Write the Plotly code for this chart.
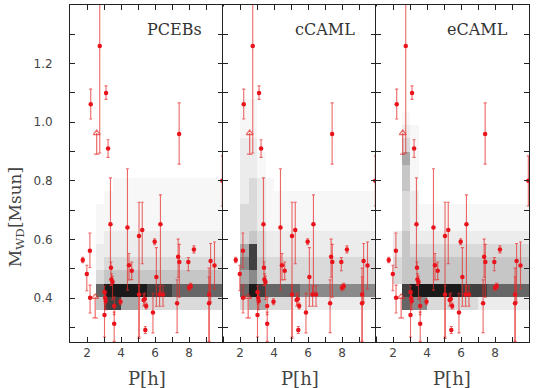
import plotly.graph_objects as go

# ---------------- data ----------------
# observed systems: orbital period [h], WD mass [Msun], errors (+/-)
P_obs = [1.75, 1.99, 2.17, 2.18, 2.22, 2.75, 3.12, 3.24, 3.03, 3.03, 3.07, 3.10,
         3.38, 3.41, 3.44, 3.50, 3.60, 3.60, 3.97, 4.38, 4.47, 4.63, 5.06, 5.06,
         5.25, 5.33, 5.40, 5.48, 5.43, 5.88, 5.98, 6.08, 6.32, 6.27, 6.47, 7.30,
         7.36, 7.43, 7.42, 7.96, 8.00, 8.10, 8.29, 9.18, 9.18, 9.27, 9.50, 9.96]
M_obs = [0.530, 0.482, 0.561, 0.401, 1.061, 1.260, 1.100, 0.910, 0.342, 0.421, 0.400, 0.390,
         0.652, 0.503, 0.463, 0.455, 0.373, 0.312, 0.387, 0.641, 0.512, 0.493, 0.612, 0.412,
         0.632, 0.393, 0.397, 0.373, 0.291, 0.351, 0.592, 0.472, 0.652, 0.412, 0.412, 0.382,
         0.541, 0.523, 0.960, 0.523, 0.435, 0.440, 0.566, 0.412, 0.382, 0.526, 0.511, 0.800]
M_err_plus = [0.009, 0.030, 0.061, 0.043, 0.052, 0.200, 0.024, 0.030, 0.075, 0.020, 0.020, 0.030,
              0.158, 0.020, 0.020, 0.020, 0.030, 0.040, 0.010, 0.200, 0.040, 0.030, 0.115, 0.030,
              0.095, 0.020, 0.020, 0.010, 0.012, 0.065, 0.010, 0.100, 0.100, 0.030, 0.030, 0.080,
              0.060, 0.060, 0.106, 0.015, 0.010, 0.010, 0.012, 0.090, 0.090, 0.060, 0.080, 0.085]
M_err_minus = [0.009, 0.057, 0.057, 0.052, 0.050, 0.365, 0.022, 0.030, 0.075, 0.020, 0.020, 0.030,
               0.147, 0.060, 0.020, 0.060, 0.030, 0.060, 0.010, 0.214, 0.050, 0.030, 0.345, 0.150,
               0.115, 0.020, 0.020, 0.010, 0.012, 0.070, 0.010, 0.100, 0.230, 0.040, 0.040, 0.100,
               0.070, 0.120, 0.103, 0.030, 0.010, 0.010, 0.012, 0.170, 0.130, 0.140, 0.080, 0.086]
# lower limits (arrows): period, lower mass, arrow tip mass
P_lim = [2.57, 2.48]
M_lim_low = [0.891, 0.332]
M_lim_tip = [0.963, 0.404]

# simulated population density (grey levels 0-9), bins 0.5 h x 0.045 Msun
P_edges = [1.0 + 0.5 * i for i in range(19)]
M_edges = [round(0.27 + 0.045 * i, 3) for i in range(26)]
# rows listed from top (1.35-1.395) to bottom (0.27-0.315)
dens_pceb = ["0" * 18] * 13 + [
    "000001111111111111",
    "000011111111111111",
    "000111111111111111",
    "000111111111111111",
    "000122222222222222",
    "000222222222222222",
    "000233333333333333",
    "000344444444444444",
    "000799999888777777",
    "000488553333333333",
    "000000000000000000",
    "000000000000000000",
]
dens_ccaml = ["0" * 18] * 7 + [
    "001100000000000000",
    "001100000000000000",
    "001100000000000000",
    "002200000000000000",
    "002210000000000000",
    "002210000000000000",
    "002321000000000000",
    "002321111111111111",
    "003321111111111111",
    "003321111111111111",
    "003432222222222222",
    "005832222222222222",
    "006843333333333333",
    "005643333333333333",
    "007987777666666666",
    "003553332222222222",
    "000000000000000000",
    "000000000000000000",
]
dens_ecaml = ["0" * 18] * 8 + [
    "000100000000000000",
    "000210000000000000",
    "000310000000000000",
    "000510000000000000",
    "000410000000000000",
    "000410000000000000",
    "000320000000000000",
    "000321111111111111",
    "000321111111111111",
    "002422222222222222",
    "002433333333333333",
    "003444444444444444",
    "003444444444444444",
    "000899999988877777",
    "000766333333222222",
    "000000000000000000",
    "000000000000000000",
]
panel_names = ["PCEBs", "cCAML", "eCAML"]
x_major = [2, 4, 6, 8]
x_minor = [1, 3, 5, 7, 9]
y_major = [0.4, 0.6, 0.8, 1.0, 1.2]
y_minor = [0.3, 0.5, 0.7, 0.9, 1.1, 1.3]

# ---------------- figure ----------------
greys = ["#ffffff", "#f7f7f7", "#ececec", "#dadada", "#c6c6c6",
         "#aaaaaa", "#8a8a8a", "#666666", "#404040", "#1a1a1a"]
cscale = [[k / 9, c] for k, c in enumerate(greys)]


def to_z(rows):
    return [[int(ch) for ch in r] for r in rows[::-1]]


fig = go.Figure()
W, H = 537, 388
ml, mr, mt, mb = 70, 8, 5, 46
doms = [[0, 1 / 3], [1 / 3, 2 / 3], [2 / 3, 1]]
dens_all = [dens_pceb, dens_ccaml, dens_ecaml]
red = "#e8131b"
ebar = "rgba(232,40,40,0.7)"

for k in range(3):
    xa = "x" if k == 0 else f"x{k+1}"
    ya = "y" if k == 0 else f"y{k+1}"
    fig.add_trace(go.Heatmap(x=P_edges, y=M_edges, z=to_z(dens_all[k]),
                             colorscale=cscale, zmin=0, zmax=9, showscale=False,
                             xaxis=xa, yaxis=ya, hoverinfo="skip"))
    fig.add_trace(go.Scatter(x=P_obs, y=M_obs, mode="markers",
                             marker=dict(color=red, size=4.5),
                             error_y=dict(type="data", symmetric=False,
                                          array=M_err_plus, arrayminus=M_err_minus,
                                          color=ebar, thickness=1.1, width=1.5),
                             xaxis=xa, yaxis=ya, showlegend=False))
    for p, lo, tip in zip(P_lim, M_lim_low, M_lim_tip):
        fig.add_trace(go.Scatter(x=[p, p], y=[lo, tip], mode="lines",
                                 line=dict(color=ebar, width=1.2),
                                 xaxis=xa, yaxis=ya, showlegend=False, hoverinfo="skip"))
        fig.add_trace(go.Scatter(x=[p], y=[tip], mode="markers",
                                 marker=dict(symbol="triangle-up-open", size=6,
                                             color=ebar, line=dict(width=1.2, color=ebar)),
                                 xaxis=xa, yaxis=ya, showlegend=False, hoverinfo="skip"))
        fig.add_trace(go.Scatter(x=[p], y=[lo], mode="markers",
                                 marker=dict(symbol="line-ew", size=4,
                                             line=dict(width=1.2, color=ebar)),
                                 xaxis=xa, yaxis=ya, showlegend=False, hoverinfo="skip"))
    fig.add_annotation(x=0.876, y=0.926, xref=f"{xa} domain", yref=f"{ya} domain",
                       text=panel_names[k], showarrow=False, xanchor="right", yanchor="middle",
                       font=dict(family="DejaVu Serif", size=16, color="#333"))
    xd = dict(domain=doms[k], range=[1, 10], tickmode="array", tickvals=x_major,
              minor=dict(tickmode="array", tickvals=x_minor, ticks="inside", ticklen=5,
                         tickcolor="#222", showgrid=False),
              ticks="inside", ticklen=5, tickcolor="#222", showline=True, linecolor="#222",
              linewidth=1, mirror="allticks", showgrid=False, zeroline=False,
              tickfont=dict(family="DejaVu Sans", size=12, color="#444"), anchor=ya)
    yd = dict(domain=[0, 1], range=[0.25, 1.4], tickmode="array", tickvals=y_major,
              tickformat=".1f",
              minor=dict(tickmode="array", tickvals=y_minor, ticks="inside", ticklen=5,
                         tickcolor="#222", showgrid=False),
              ticks="inside", ticklen=5, tickcolor="#222", showline=True, linecolor="#222",
              linewidth=1, mirror="allticks", showgrid=False, zeroline=False,
              showticklabels=(k == 0), ticklabelstandoff=14,
              tickfont=dict(family="DejaVu Sans", size=12, color="#444"), anchor=xa)
    fig.layout[("xaxis" if k == 0 else f"xaxis{k+1}")] = xd
    fig.layout[("yaxis" if k == 0 else f"yaxis{k+1}")] = yd
    fig.add_annotation(x=(doms[k][0] + doms[k][1]) / 2, y=-0.107, xref="paper", yref="paper",
                       text="P[h]", showarrow=False, xanchor="center", yanchor="middle",
                       font=dict(family="DejaVu Serif", size=18, color="#444"))

fig.add_annotation(x=(16 - ml) / (W - ml - mr), y=0.37, xref="paper", yref="paper",
                   text="M<sub>WD</sub>[Msun]", textangle=-90, showarrow=False,
                   xanchor="center", yanchor="middle",
                   font=dict(family="DejaVu Serif", size=17, color="#444"))

fig.update_layout(width=W, height=H, margin=dict(l=ml, r=mr, t=mt, b=mb),
                  plot_bgcolor="white", paper_bgcolor="white", showlegend=False)
fig.write_html("out.html")
